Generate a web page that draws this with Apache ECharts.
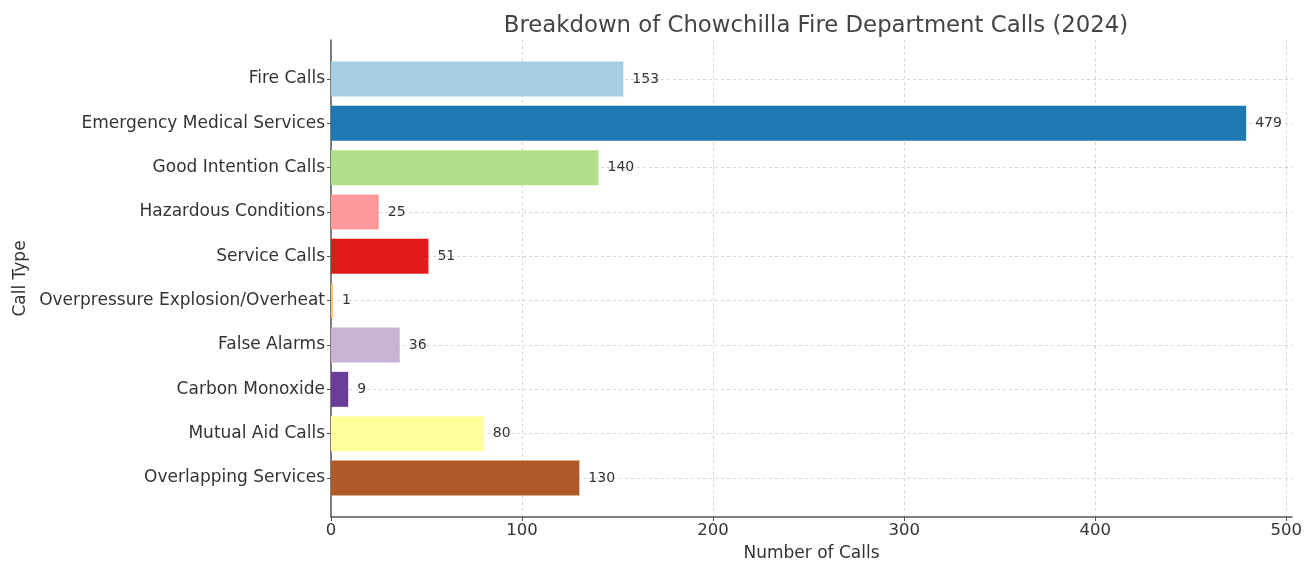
<!DOCTYPE html>
<html>
<head>
<meta charset="utf-8">
<script src="https://cdn.jsdelivr.net/npm/echarts@6/dist/echarts.min.js"></script>
<style>html,body{margin:0;padding:0;background:#fff}#c{width:1315px;height:561px}</style>
</head>
<body>
<div id="c"></div>
<script>
const categories = ["Fire Calls","Emergency Medical Services","Good Intention Calls","Hazardous Conditions","Service Calls","Overpressure Explosion/Overheat","False Alarms","Carbon Monoxide","Mutual Aid Calls","Overlapping Services"];
const values = [153,479,140,25,51,1,36,9,80,130];
const barColors = ["#a6cee3","#1f78b4","#b2df8a","#fb9a99","#e31a1c","#fdbf6f","#cab2d6","#6a3d9a","#ffff99","#b15928"];
const xTicks = [0,100,200,300,400,500];

const FONT = "DejaVu Sans";
const TXT = "#333333";
const chart = echarts.init(document.getElementById('c'), null, {renderer:'canvas'});
const LEFT = 331, RIGHT = 1315-1292;
const gridLine = {show:true, lineStyle:{color:'#cccccc', type:[3,3], width:0.8}};
chart.setOption({
  animation:false,
  backgroundColor:'#fff',
  title:{text:'Breakdown of Chowchilla Fire Department Calls (2024)', left:811, top:10, textAlign:'center',
    textStyle:{fontFamily:FONT, fontSize:22.8, fontWeight:'normal', color:'#444'}},
  grid:[
    {left:LEFT, right:RIGHT, top:79, height:399, outerBoundsMode:'none'},
    {left:LEFT, right:RIGHT, top:40, height:477, outerBoundsMode:'none'}
  ],
  xAxis:[
    {gridIndex:0, type:'value', min:0, max:503, show:false},
    {gridIndex:1, type:'value', min:0, max:503,
      name:'Number of Calls', nameLocation:'middle', nameGap:28,
      nameTextStyle:{fontFamily:FONT, fontSize:17, color:TXT},
      axisLine:{show:true, lineStyle:{color:'#555', width:1.5}},
      axisTick:{show:true, length:4, customValues:xTicks, lineStyle:{color:'#555'}},
      axisLabel:{customValues:xTicks, margin:5, fontFamily:FONT, fontSize:16.5, color:TXT},
      splitLine:gridLine}
  ],
  yAxis:[
    {gridIndex:0, type:'category', data:categories, inverse:true, boundaryGap:false,
      axisLine:{show:false},
      axisTick:{show:true, length:4, lineStyle:{color:'#555'}},
      axisLabel:{margin:6, fontFamily:FONT, fontSize:17, color:TXT},
      splitLine:gridLine},
    {gridIndex:1, type:'value', min:0, max:1,
      name:'Call Type', nameLocation:'middle', nameGap:302, nameRotate:90,
      nameTextStyle:{fontFamily:FONT, fontSize:17, color:TXT},
      axisLine:{show:true, lineStyle:{color:'#555', width:1.5}},
      axisTick:{show:false}, axisLabel:{show:false}, splitLine:{show:false}}
  ],
  series:[{
    type:'bar', xAxisIndex:0, yAxisIndex:0, clip:false, barWidth:35,
    data: values.map((v,i)=>({value:v, itemStyle:{color:barColors[i]}})),
    label:{show:true, position:'right', distance:9, fontFamily:FONT, fontSize:14, color:TXT},
    z:3
  }]
});
</script>
</body>
</html>
